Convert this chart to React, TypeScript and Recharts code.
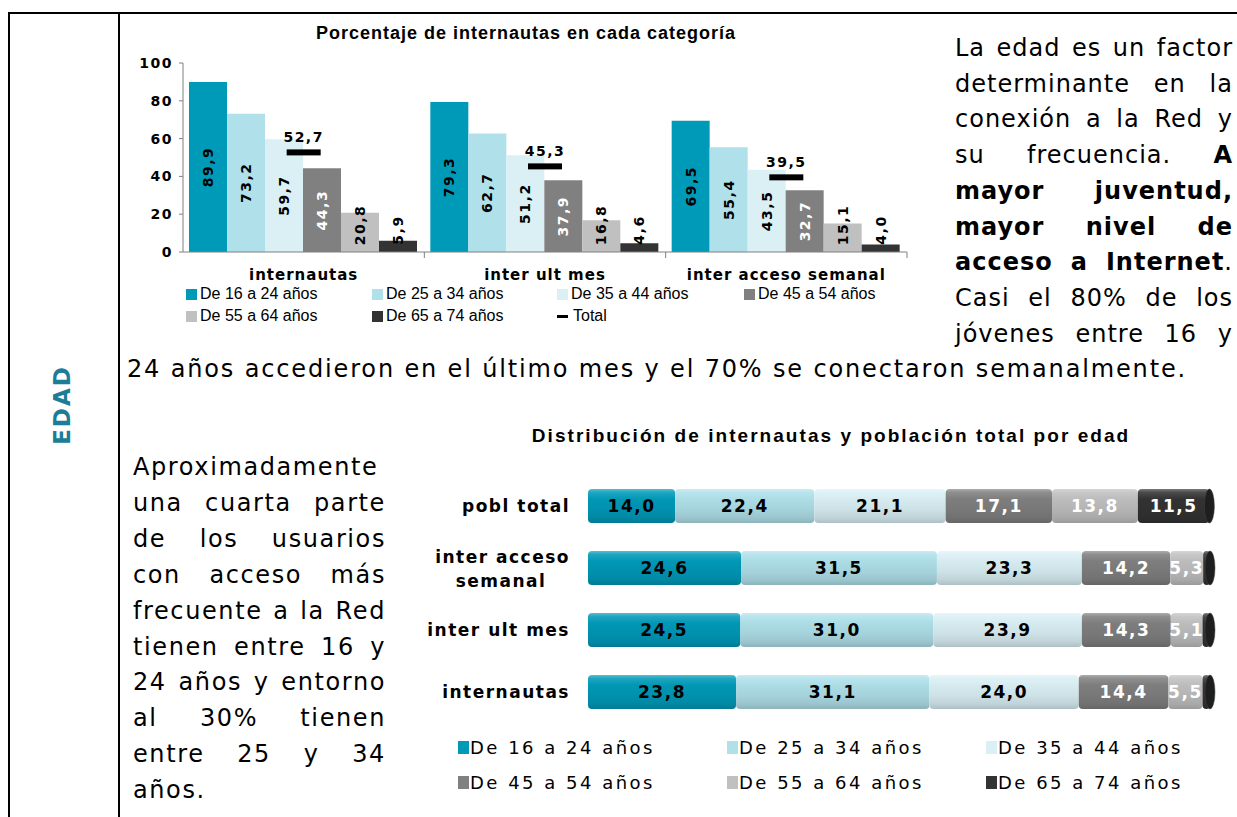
import React from 'react'
import { ComposedChart, BarChart, Bar, Line, XAxis, YAxis, Legend, LabelList } from 'recharts'

const ageGroups = ['De 16 a 24 años', 'De 25 a 34 años', 'De 35 a 44 años', 'De 45 a 54 años', 'De 55 a 64 años', 'De 65 a 74 años']
const ageKeys = ['a16', 'a25', 'a35', 'a45', 'a55', 'a65']
const ageColors = ['#009AB9', '#B0E0EA', '#DAF0F5', '#808080', '#C0C0C0', '#333333']

// Porcentaje de internautas en cada categoría
const pctCategories = ['internautas', 'inter ult mes', 'inter acceso semanal']
const pct16_24 = [89.9, 79.3, 69.5]
const pct25_34 = [73.2, 62.7, 55.4]
const pct35_44 = [59.7, 51.2, 43.5]
const pct45_54 = [44.3, 37.9, 32.7]
const pct55_64 = [20.8, 16.8, 15.1]
const pct65_74 = [5.9, 4.6, 4.0]
const pctTotal = [52.7, 45.3, 39.5]
const pctTicks = [0, 20, 40, 60, 80, 100]

// Distribución de internautas y población total por edad
const distCategories = ['pobl total', 'inter acceso\nsemanal', 'inter ult mes', 'internautas']
const dist16_24 = [14.0, 24.6, 24.5, 23.8]
const dist25_34 = [22.4, 31.5, 31.0, 31.1]
const dist35_44 = [21.1, 23.3, 23.9, 24.0]
const dist45_54 = [17.1, 14.2, 14.3, 14.4]
const dist55_64 = [13.8, 5.3, 5.1, 5.5]
const dist65_74 = [11.5, 1.1, 1.2, 1.2]

const pctSeries = [pct16_24, pct25_34, pct35_44, pct45_54, pct55_64, pct65_74]
const distSeries = [dist16_24, dist25_34, dist35_44, dist45_54, dist55_64, dist65_74]

const pctData = pctCategories.map((name, i) => {
  const row: any = { name, total: pctTotal[i] }
  ageKeys.forEach((k, j) => (row[k] = pctSeries[j][i]))
  return row
})

const distData = distCategories.map((name, i) => {
  const row: any = { name }
  ageKeys.forEach((k, j) => (row[k] = distSeries[j][i]))
  return row
})

const fmt = (v: number) => v.toFixed(1).replace('.', ',')
const VERDANA = '"DejaVu Sans", Verdana, sans-serif'
const ARIAL = '"Liberation Sans", Arial, sans-serif'

function mix(hex: string, target: string, t: number) {
  const a = parseInt(hex.slice(1), 16)
  const b = parseInt(target.slice(1), 16)
  const ch = (s: number) => {
    const ca = (a >> s) & 255
    const cb = (b >> s) & 255
    return Math.round(ca + (cb - ca) * t)
  }
  return `rgb(${ch(16)},${ch(8)},${ch(0)})`
}

// ---------- top chart pieces ----------

const VerticalLabel = (props: any) => {
  const { x, y, width, height, value, color } = props
  const text = fmt(value)
  const cx = x + width / 2
  const half = text.length * 5
  const cy = Math.min(y + height / 2, y + height - 7 - half)
  return (
    <text
      x={cx}
      y={cy}
      transform={`rotate(-90 ${cx} ${cy})`}
      textAnchor="middle"
      dominantBaseline="central"
      fontFamily={VERDANA}
      fontWeight="bold"
      fontSize={14}
      letterSpacing={1.5}
      fill={color}
    >
      {text}
    </text>
  )
}

const TotalDash = (props: any) => {
  const { cx, cy } = props
  if (cx == null || cy == null) return null
  return <rect x={cx - 17} y={cy - 3} width={34} height={6} fill="#000" />
}

const TotalLabel = (props: any) => {
  const { x, y, value } = props
  return (
    <text x={x} y={y - 15} textAnchor="middle" dominantBaseline="central" fontFamily={VERDANA} fontWeight="bold" fontSize={14} letterSpacing={1.5} fill="#000">
      {fmt(value)}
    </text>
  )
}

const PCT_BAND = 724 / 3

const CategoryTick = (props: any) => {
  const { x, y, payload, index } = props
  const left = x - PCT_BAND / 2
  return (
    <g>
      {index > 0 && <line x1={left} y1={y} x2={left} y2={y + 6} stroke="#808080" />}
      {index === pctCategories.length - 1 && (
        <line x1={x + PCT_BAND / 2} y1={y} x2={x + PCT_BAND / 2} y2={y + 6} stroke="#808080" />
      )}
      <text x={x} y={y + 28} textAnchor="middle" fontFamily={VERDANA} fontWeight="bold" fontSize={15} letterSpacing={1} fill="#000">
        {payload.value}
      </text>
    </g>
  )
}

const TopLegend = () => {
  const cols = [0, 186, 371, 558]
  const items = [...ageGroups.map((g, i) => ({ label: g, color: ageColors[i], dash: false })), { label: 'Total', color: '#000', dash: true }]
  return (
    <div style={{ position: 'relative', width: 720, height: 46 }}>
      {items.map((it, i) => (
        <div
          key={it.label}
          style={{
            position: 'absolute',
            left: cols[i % 4],
            top: Math.floor(i / 4) * 22,
            height: 22,
            display: 'flex',
            alignItems: 'center',
            fontFamily: ARIAL,
            fontSize: 16,
            color: '#000',
            whiteSpace: 'nowrap',
          }}
        >
          {it.dash ? (
            <span style={{ width: 11, height: 3, background: '#000', marginRight: 5 }} />
          ) : (
            <span style={{ width: 11, height: 11, background: it.color, marginRight: 3 }} />
          )}
          {it.label}
        </div>
      ))}
    </div>
  )
}

// ---------- bottom chart pieces ----------

const Segment = (props: any) => {
  const { x, y, width, height, idx } = props
  if (!width || width <= 0) return null
  return (
    <g>
      <rect x={x} y={y} width={width} height={height} rx={4} ry={4} fill={`url(#seg${idx})`} />
      {idx === 5 && <ellipse cx={x + width} cy={y + height / 2} rx={5} ry={height / 2} fill="#1e1e1e" stroke="#444" strokeWidth={0.5} />}
    </g>
  )
}

const SegmentLabel = (props: any) => {
  const { x, y, width, height, value, color } = props
  if (value < 2) return null
  return (
    <text
      x={x + width / 2}
      y={y + height / 2}
      textAnchor="middle"
      dominantBaseline="central"
      fontFamily={VERDANA}
      fontWeight="bold"
      fontSize={17}
      letterSpacing={1.5}
      fill={color}
    >
      {fmt(value)}
    </text>
  )
}

const DistTick = (props: any) => {
  const { x, y, payload } = props
  const lines = String(payload.value).split('\n')
  const common = { fontFamily: VERDANA, fontWeight: 'bold' as const, fontSize: 17, letterSpacing: 1.5, fill: '#000' }
  if (lines.length === 1) {
    return (
      <text x={x} y={y} textAnchor="end" dominantBaseline="central" {...common}>
        {lines[0]}
      </text>
    )
  }
  const w = lines[0].length * 11.5
  return (
    <g>
      <text x={x} y={y - 11} textAnchor="end" dominantBaseline="central" {...common}>
        {lines[0]}
      </text>
      <text x={x - w / 2} y={y + 13} textAnchor="middle" dominantBaseline="central" {...common}>
        {lines[1]}
      </text>
    </g>
  )
}

const BottomLegend = () => {
  const cols = [0, 269, 528]
  return (
    <div style={{ position: 'relative', width: 760, height: 70 }}>
      {ageGroups.map((g, i) => (
        <div
          key={g}
          style={{
            position: 'absolute',
            left: cols[i % 3],
            top: Math.floor(i / 3) * 35,
            height: 35,
            display: 'flex',
            alignItems: 'center',
            fontFamily: VERDANA,
            fontSize: 18,
            letterSpacing: 2.5,
            color: '#000',
            whiteSpace: 'nowrap',
          }}
        >
          <span style={{ width: 11, height: 13, background: ageColors[i], marginRight: 1 }} />
          {g}
        </div>
      ))}
    </div>
  )
}

// ---------- text blocks ----------

const bodyText: React.CSSProperties = {
  position: 'absolute',
  fontFamily: VERDANA,
  fontSize: 24,
  lineHeight: '36px',
  height: 36,
  letterSpacing: 1.85,
  color: '#000',
  textAlign: 'justify',
  textAlignLast: 'justify',
  whiteSpace: 'nowrap',
}

const rightLines: React.ReactNode[] = [
  'La edad es un factor',
  'determinante en la',
  'conexión a la Red y',
  <>su frecuencia. <b>A</b></>,
  <b>mayor juventud,</b>,
  <b>mayor nivel de</b>,
  <><b>acceso a Internet</b>.</>,
  'Casi el 80% de los',
  'jóvenes entre 16 y',
]

const leftLines: string[] = [
  'Aproximadamente',
  'una cuarta parte',
  'de los usuarios',
  'con acceso más',
  'frecuente a la Red',
  'tienen entre 16 y',
  '24 años y entorno',
  'al 30% tienen',
  'entre 25 y 34',
  'años.',
]

export default function App() {
  return (
    <div style={{ position: 'absolute', left: 0, top: 0, width: 1237, height: 817, background: '#fff', overflow: 'hidden' }}>
      {/* table frame */}
      <div style={{ position: 'absolute', left: 8, top: 12, width: 1229, height: 2, background: '#000' }} />
      <div style={{ position: 'absolute', left: 8, top: 12, width: 2, height: 805, background: '#000' }} />
      <div style={{ position: 'absolute', left: 118, top: 12, width: 2, height: 805, background: '#000' }} />

      <div
        style={{
          position: 'absolute',
          left: 62,
          top: 405,
          transform: 'translate(-50%, -50%) rotate(-90deg)',
          fontFamily: VERDANA,
          fontWeight: 'bold',
          fontSize: 23,
          letterSpacing: 2,
          color: '#1b7d97',
          whiteSpace: 'nowrap',
        }}
      >
        EDAD
      </div>

      {/* top chart */}
      <div style={{ position: 'absolute', left: 226, top: 23, width: 600, textAlign: 'center', fontFamily: ARIAL, fontWeight: 'bold', fontSize: 18, letterSpacing: 1, whiteSpace: 'nowrap' }}>
        Porcentaje de internautas en cada categoría
      </div>
      <div style={{ position: 'absolute', left: 120, top: 15 }}>
        <ComposedChart width={800} height={320} data={pctData} margin={{ top: 48, right: 13, left: 15, bottom: 53 }} barCategoryGap={6} barGap={0}>
          <XAxis dataKey="name" height={30} tickLine={false} tickSize={0} tickMargin={0} axisLine={{ stroke: '#808080' }} tick={<CategoryTick />} interval={0} />
          <YAxis
            width={48}
            domain={[0, 100]}
            ticks={pctTicks}
            tickSize={4}
            tickMargin={6}
            axisLine={{ stroke: '#808080' }}
            tickLine={{ stroke: '#808080' }}
            tick={{ fill: '#000', fontFamily: VERDANA, fontWeight: 'bold', fontSize: 14, letterSpacing: 1.5 }}
          />
          {ageKeys.map((k, j) => (
            <Bar key={k} dataKey={k} name={ageGroups[j]} fill={ageColors[j]} isAnimationActive={false}>
              <LabelList dataKey={k} content={(p: any) => <VerticalLabel {...p} color={j === 3 ? '#fff' : '#000'} />} />
            </Bar>
          ))}
          <Line dataKey="total" name="Total" stroke="none" dot={<TotalDash />} activeDot={false} isAnimationActive={false}>
            <LabelList dataKey="total" content={<TotalLabel />} />
          </Line>
          <Legend layout="vertical" verticalAlign="middle" align="center" wrapperStyle={{ left: 66, top: 268, width: 720 }} content={<TopLegend />} />
        </ComposedChart>
      </div>

      {/* right text */}
      {rightLines.map((ln, i) => (
        <div key={i} style={{ ...bodyText, left: 955, top: 48 - 18 + i * 35.7, width: 278, letterSpacing: 1.0 }}>
          {ln}
        </div>
      ))}
      <div style={{ ...bodyText, left: 127, top: 369 - 18, width: 1106, textAlign: 'left', textAlignLast: 'left' }}>
        24 años accedieron en el último mes y el 70% se conectaron semanalmente.
      </div>

      {/* left text */}
      {leftLines.map((ln, i) => (
        <div
          key={i}
          style={{
            ...bodyText,
            left: 133,
            top: 467 - 18 + i * 35.9,
            width: 253,
            letterSpacing: 1.6,
            textAlignLast: i === 0 || i === leftLines.length - 1 ? 'left' : 'justify',
          }}
        >
          {ln}
        </div>
      ))}

      {/* bottom chart */}
      <div style={{ position: 'absolute', left: 400, top: 425, width: 862, textAlign: 'center', fontFamily: ARIAL, fontWeight: 'bold', fontSize: 19, letterSpacing: 2.05, whiteSpace: 'nowrap' }}>
        Distribución de internautas y población total por edad
      </div>
      <div style={{ position: 'absolute', left: 400, top: 420 }}>
        <BarChart width={830} height={380} data={distData} layout="vertical" margin={{ top: 55, right: 20, left: 20, bottom: 77 }} barCategoryGap={14}>
          <defs>
            {ageColors.map((c, j) => (
              <linearGradient key={c} id={`seg${j}`} x1="0" y1="0" x2="0" y2="1">
                <stop offset="0%" stopColor={mix(c, '#ffffff', 0.35)} />
                <stop offset="10%" stopColor={mix(c, '#ffffff', 0.12)} />
                <stop offset="30%" stopColor={mix(c, '#000000', 0.02)} />
                <stop offset="60%" stopColor={mix(c, '#000000', 0.06)} />
                <stop offset="85%" stopColor={mix(c, '#000000', 0.12)} />
                <stop offset="100%" stopColor={mix(c, '#000000', 0.2)} />
              </linearGradient>
            ))}
          </defs>
          <XAxis type="number" domain={[0, 100]} hide />
          <YAxis type="category" dataKey="name" width={168} axisLine={false} tickLine={false} tickSize={0} tickMargin={18} tick={<DistTick />} interval={0} />
          {ageKeys.map((k, j) => (
            <Bar key={k} dataKey={k} name={ageGroups[j]} stackId="d" fill={ageColors[j]} isAnimationActive={false} shape={(p: any) => <Segment {...p} idx={j} />}>
              <LabelList dataKey={k} content={(p: any) => <SegmentLabel {...p} color={j >= 3 ? '#fff' : '#000'} />} />
            </Bar>
          ))}
          <Legend layout="vertical" verticalAlign="middle" align="center" wrapperStyle={{ left: 58, top: 310, width: 760 }} content={<BottomLegend />} />
        </BarChart>
      </div>
    </div>
  )
}
